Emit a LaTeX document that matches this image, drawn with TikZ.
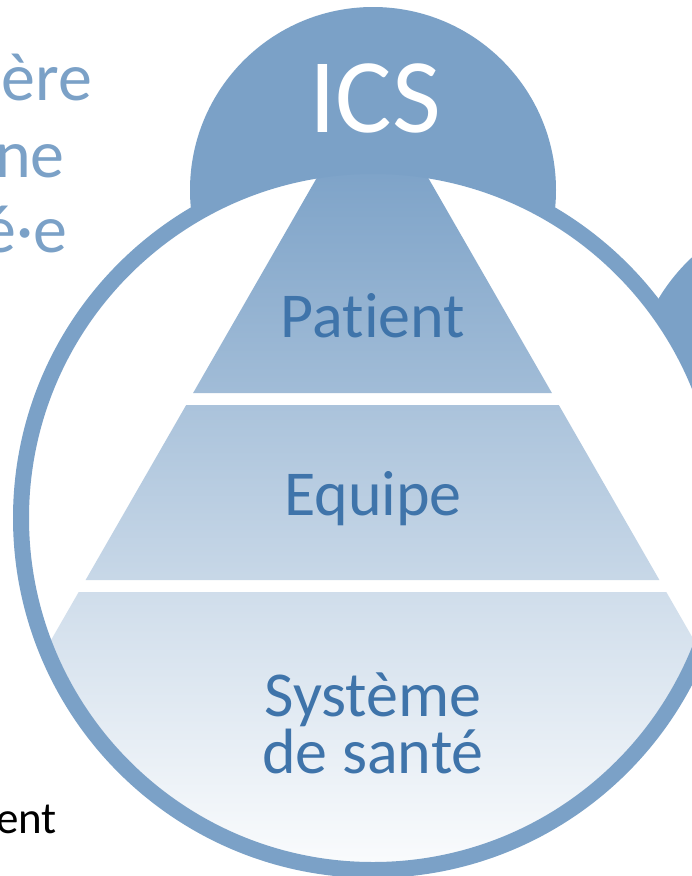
\documentclass[tikz,border=0pt]{standalone}
\usepackage{fontspec}
\setmainfont{Carlito}[Ligatures = NoCommon]
\definecolor{icsblue}{HTML}{7BA1C7}
\definecolor{labelblue}{HTML}{3F74AA}
\begin{document}
\begin{tikzpicture}[%
  x = 1pt, y = -1pt,
  level/.style = {text = labelblue, font = \fontsize{64}{57}\selectfont, align = center, inner sep = 0pt, anchor = base},
  side/.style = {text = icsblue, font = \fontsize{68}{76}\selectfont, inner sep = 0pt, anchor = base east}]
  \useasboundingbox (0, 0) rectangle (692, 876);
  % circles behind the ring
  \fill[icsblue] (373, 190) circle (183);
  \fill[icsblue] (820, 395) circle (188);
  \fill[white] (373, 518) circle (352);
  % pyramid
  \begin{scope}
    \clip (373, 518) circle (352);
    \shade[top color = icsblue, bottom color = icsblue!71!white]
      (332.8, 150) -- (412.2, 150) -- (551.9, 393) -- (193.1, 393) -- cycle;
    \shade[top color = icsblue!64!white, bottom color = icsblue!42!white]
      (186.2, 405) -- (558.8, 405) -- (659.4, 580) -- (85.6, 580) -- cycle;
    \shade[top color = icsblue!36!white, bottom color = icsblue!2!white]
      (78.7, 592) -- (666.3, 592) -- (831.9, 880) -- (-86.9, 880) -- cycle;
  \end{scope}
  \draw[icsblue, line width = 16pt] (373, 518) circle (352);

  \node[text = white, font = \fontsize{106}{106}\selectfont, inner sep = 0pt, anchor = base] (ics) at (375, 132) {ICS};
  \node[level] (patient) at (373, 337) {Patient};
  \node[level] (equipe) at (373, 515) {Equipe};
  \node[level] (systeme) at (373, 773) {Système\\de santé};

  \node[side] (l1) at (92, 100) {·ère};
  \node[side] (l2) at (65, 177) {ne};
  \node[side] (l3) at (68, 252) {é·e};
  \node[font = \fontsize{45}{45}\selectfont, inner sep = 0pt, anchor = base east] (l4) at (57, 833) {ent};
\end{tikzpicture}
\end{document}
